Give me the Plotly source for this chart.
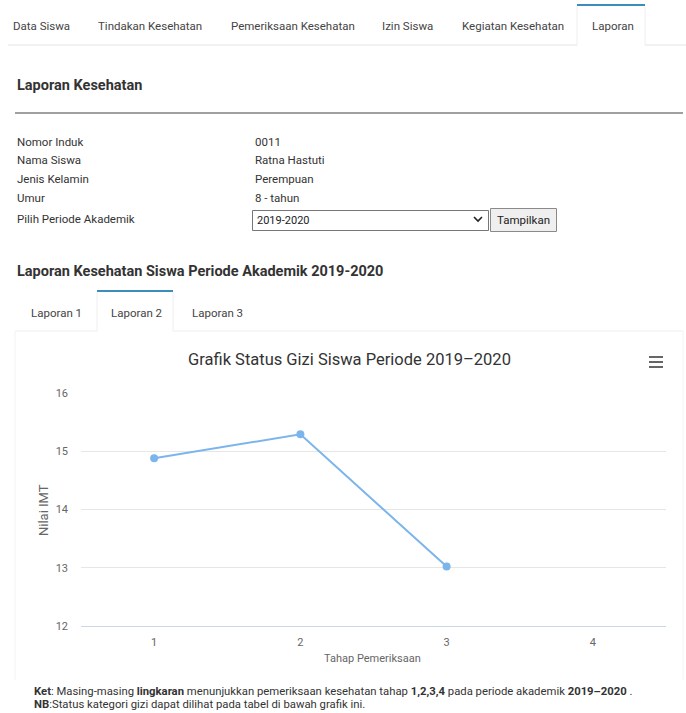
import plotly.graph_objects as go

# ---------------- data ----------------
categories = [1, 2, 3, 4]
nilai_imt = [14.88, 15.29, 13.02, None]
y_ticks = [12, 13, 14, 15, 16]

nav_tabs = ["Data Siswa", "Tindakan Kesehatan", "Pemeriksaan Kesehatan", "Izin Siswa",
            "Kegiatan Kesehatan", "Laporan"]
nav_tab_x = [11, 96, 229, 380, 460, 590]
info_labels = ["Nomor Induk", "Nama Siswa", "Jenis Kelamin", "Umur", "Pilih Periode Akademik"]
info_values = ["0011", "Ratna Hastuti", "Perempuan", "8 - tahun"]
sub_tabs = ["Laporan 1", "Laporan 2", "Laporan 3"]
sub_tab_x = [29, 109, 190]

chart_title = "Grafik Status Gizi Siswa Periode 2019\u20132020"
y_title = "Nilai IMT"
x_title = "Tahap Pemeriksaan"

# ---------------- geometry helpers ----------------
OFF = 0
W, H = 686, 713
L, R, T, B = 81, 20, 393, 87
PW = W - L - R
PH = H - T - B
FONT = "Roboto, Liberation Sans, sans-serif"
CFONT = "Roboto, Liberation Sans, sans-serif"


def X(px):
    return (px - OFF - L) / PW


def Y(py):
    return (H - B - (py - OFF)) / PH


annotations = []


def ann(text, px, py, size=12, color="#333", xanchor="left", font=FONT, angle=0):
    annotations.append(dict(text=text, x=X(px), y=Y(py), xref="paper", yref="paper",
                            xanchor=xanchor, yanchor="middle", showarrow=False,
                            textangle=angle,
                            font=dict(family=font, size=size, color=color)))


shapes = []


def line(x0, y0, x1, y1, color, width=1):
    shapes.append(dict(type="line", xref="paper", yref="paper",
                       x0=X(x0), y0=Y(y0), x1=X(x1), y1=Y(y1),
                       line=dict(color=color, width=width), layer="above"))


def rect(x0, y0, x1, y1, line_color, fill="rgba(0,0,0,0)", width=1):
    shapes.append(dict(type="rect", xref="paper", yref="paper",
                       x0=X(x0), y0=Y(y0), x1=X(x1), y1=Y(y1),
                       line=dict(color=line_color, width=width), fillcolor=fill,
                       layer="below"))


# top navigation
line(8, 45, 577, 45, "#e4e4e4")
line(645, 45, 686, 45, "#e4e4e4")
line(577, 6, 577, 45, "#eeeeee")
line(645, 6, 645, 45, "#eeeeee")
line(577, 5, 645, 5, "#3c8dbc", 2)
for t, x in zip(nav_tabs, nav_tab_x):
    ann(t, x, 26, 11.5, "#444")

# heading
ann("<b>Laporan Kesehatan</b>", 15, 85, 14.5, "#333")
line(15, 113, 683, 113, "#a0a0a0", 2)

# info rows
for t, yy in zip(info_labels, [142, 160, 179, 198, 219]):
    ann(t, 15, yy, 11.5, "#333")
for t, yy in zip(info_values, [142, 160, 179, 198]):
    ann(t, 253, yy, 11.5, "#333")

# select + button
rect(252.5, 210.5, 488.5, 230.5, "#767676", "#ffffff")
ann("2019-2020", 255, 220, 11, "#222")
shapes.append(dict(type="path", xref="paper", yref="paper",
                   path=f"M {X(474)} {Y(217)} L {X(478)} {Y(221)} L {X(482)} {Y(217)}",
                   line=dict(color="#222", width=1.6), layer="above"))
rect(490.5, 208.5, 556.5, 231.5, "#8a8a8a", "#efefef")
ann("Tampilkan", 523, 220, 11.5, "#222", xanchor="center")

# heading 2
ann("<b>Laporan Kesehatan Siswa Periode Akademik 2019-2020</b>", 15, 271, 14.5, "#333")

# sub tabs
line(15, 331, 97, 331, "#eeeeee")
line(173, 331, 683, 331, "#eeeeee")
line(97, 292, 97, 331, "#eeeeee")
line(173, 292, 173, 331, "#eeeeee")
line(97, 291, 173, 291, "#3c8dbc", 2)
for t, x in zip(sub_tabs, sub_tab_x):
    ann(t, x, 313, 11.5, "#444")

# chart container border
line(15, 331, 15, 680, "#f2f2f2")
line(683, 331, 683, 680, "#f2f2f2")

# chart title and menu icon
ann(chart_title, 349, 359, 16.5, "#333", xanchor="center", font=CFONT)
for yy in [357, 362, 367]:
    line(649, yy, 663, yy, "#666", 2)

# axis titles
ann(y_title, 43, 510, 13, "#666", xanchor="center", font=CFONT, angle=-90)
ann(x_title, 372, 658, 11, "#666", xanchor="center", font=CFONT)

# footnote
ann("<b>Ket</b>: Masing-masing <b>lingkaran</b> menunjukkan pemeriksaan kesehatan tahap "
    "<b>1,2,3,4</b> pada periode akademik <b>2019\u20132020</b> .", 32, 691, 11.3, "#333", font=CFONT)
ann("<b>NB</b>:Status kategori gizi dapat dilihat pada tabel di bawah grafik ini.", 32, 704, 11.3,
    "#333", font=CFONT)

# ---------------- figure ----------------
fig = go.Figure()
fig.add_trace(go.Scatter(
    x=categories, y=nilai_imt, mode="lines+markers",
    line=dict(color="#7cb5ec", width=2),
    marker=dict(size=8, color="#7cb5ec"),
    connectgaps=False, showlegend=False, hoverinfo="x+y"))

fig.update_layout(
    width=W, height=H,
    margin=dict(l=L, r=R, t=T, b=B, pad=0),
    paper_bgcolor="#ffffff", plot_bgcolor="#ffffff",
    font=dict(family=CFONT, color="#666", size=11),
    xaxis=dict(range=[0.5, 4.5], tickvals=categories, ticktext=[str(c) for c in categories],
               showgrid=False, zeroline=False, showline=True, linecolor="#ccd6eb",
               linewidth=1, ticks="", ticklabelstandoff=6,
               tickfont=dict(family=CFONT, size=11, color="#666"), fixedrange=True),
    yaxis=dict(range=[12, 16], tickvals=y_ticks, showgrid=True, gridcolor="#e6e6e6",
               gridwidth=1, zeroline=False, showline=False, ticks="",
               ticklabelstandoff=12,
               tickfont=dict(family=CFONT, size=11, color="#666"), fixedrange=True),
    annotations=annotations,
    shapes=shapes,
)

fig.write_html("out.html", config={"displayModeBar": False},
               post_script="document.body.style.margin='0px';"
                           "document.body.style.overflow='hidden';")
